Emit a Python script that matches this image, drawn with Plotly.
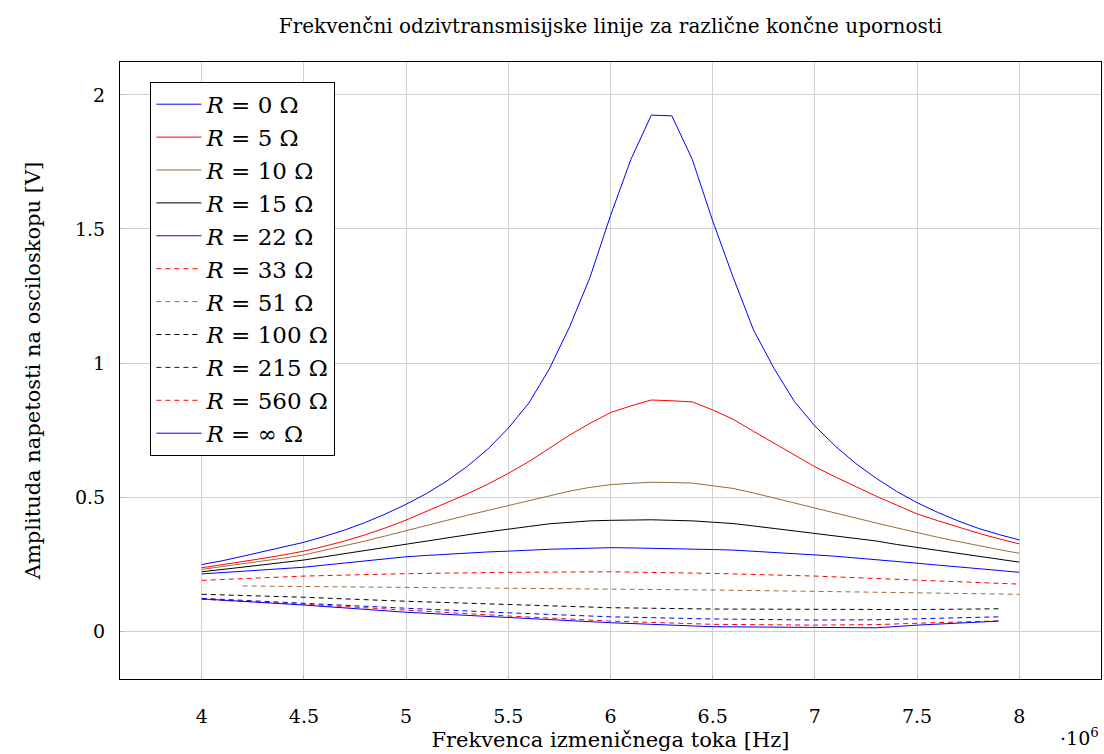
import plotly.graph_objects as go

# Frequencies in units of 10^6 Hz
freq = [4.0, 4.1, 4.2, 4.3, 4.4, 4.5, 4.6, 4.7, 4.8, 4.9, 5.0, 5.1, 5.2, 5.3, 5.4,
        5.5, 5.6, 5.7, 5.8, 5.9, 6.0, 6.1, 6.2, 6.3, 6.4, 6.5, 6.6, 6.7, 6.8, 6.9,
        7.0, 7.1, 7.2, 7.3, 7.4, 7.5, 7.6, 7.7, 7.8, 7.9, 8.0]

r0 = [0.248, 0.262, 0.279, 0.296, 0.313, 0.331, 0.353, 0.377, 0.405, 0.437, 0.473,
      0.513, 0.560, 0.615, 0.679, 0.757, 0.850, 0.977, 1.135, 1.320, 1.550, 1.760,
      1.925, 1.922, 1.760, 1.530, 1.320, 1.123, 0.980, 0.856, 0.765, 0.690, 0.625,
      0.570, 0.521, 0.479, 0.443, 0.411, 0.383, 0.360, 0.340]

r5 = [0.236, 0.247, 0.259, 0.271, 0.284, 0.298, 0.316, 0.336, 0.359, 0.385, 0.414,
      0.446, 0.478, 0.512, 0.548, 0.588, 0.632, 0.681, 0.731, 0.775, 0.815, 0.840,
      0.862, 0.859, 0.855, 0.825, 0.790, 0.745, 0.700, 0.655, 0.613, 0.575, 0.538,
      0.503, 0.470, 0.437, 0.412, 0.388, 0.365, 0.344, 0.325]

r10 = [0.230, 0.240, 0.250, 0.261, 0.272, 0.284, 0.301, 0.318, 0.336, 0.355, 0.375,
       0.394, 0.413, 0.432, 0.450, 0.467, 0.485, 0.505, 0.522, 0.536, 0.546, 0.551,
       0.555, 0.554, 0.552, 0.542, 0.532, 0.515, 0.496, 0.477, 0.458, 0.440, 0.422,
       0.403, 0.385, 0.367, 0.350, 0.334, 0.318, 0.304, 0.290]

r15 = [0.221, 0.229, 0.238, 0.247, 0.256, 0.265, 0.277, 0.289, 0.301, 0.313, 0.325,
       0.336, 0.347, 0.359, 0.370, 0.379, 0.390, 0.400, 0.406, 0.411, 0.413, 0.414,
       0.415, 0.413, 0.411, 0.406, 0.401, 0.392, 0.383, 0.374, 0.365, 0.355, 0.346,
       0.336, 0.323, 0.311, 0.301, 0.290, 0.279, 0.268, 0.257]

r22 = [0.213, 0.218, 0.223, 0.228, 0.233, 0.238, 0.246, 0.254, 0.262, 0.270, 0.277,
       0.282, 0.287, 0.292, 0.295, 0.298, 0.302, 0.305, 0.307, 0.309, 0.311, 0.310,
       0.309, 0.308, 0.306, 0.304, 0.302, 0.298, 0.293, 0.289, 0.284, 0.279, 0.273,
       0.267, 0.260, 0.253, 0.246, 0.240, 0.233, 0.226, 0.219]

freq_33 = [4.0, 4.5, 5.0, 5.5, 6.0, 6.5, 7.0, 7.5, 8.0]
r33 = [0.189, 0.205, 0.214, 0.219, 0.221, 0.215, 0.205, 0.190, 0.175]

freq_51 = [4.2, 4.5, 5.0, 5.5, 6.0, 6.5, 7.0, 7.5, 8.0]
r51 = [0.168, 0.166, 0.164, 0.160, 0.158, 0.153, 0.148, 0.142, 0.137]

freq_hi = [4.0, 4.5, 5.0, 5.5, 6.0, 6.5, 7.0, 7.3, 7.5, 7.9]
r100 = [0.137, 0.126, 0.111, 0.098, 0.087, 0.082, 0.080, 0.080, 0.080, 0.083]
r215 = [0.122, 0.103, 0.085, 0.068, 0.053, 0.045, 0.041, 0.042, 0.045, 0.053]
r560 = [0.118, 0.100, 0.078, 0.056, 0.037, 0.025, 0.022, 0.024, 0.029, 0.038]
rinf = [0.120, 0.097, 0.070, 0.051, 0.031, 0.016, 0.012, 0.012, 0.022, 0.037]

labels = ["0", "5", "10", "15", "22", "33", "51", "100", "215", "560", "∞"]

BLUE = "#0000ff"
RED = "#ff0000"
BROWN = "#9c6b3c"
BLACK = "#000000"

series = [
    (freq, r0, BLUE, "solid"),
    (freq, r5, RED, "solid"),
    (freq, r10, BROWN, "solid"),
    (freq, r15, BLACK, "solid"),
    (freq, r22, BLUE, "solid"),
    (freq_33, r33, RED, "5px,4px"),
    (freq_51, r51, BROWN, "5px,4px"),
    (freq_hi, r100, BLACK, "5px,4px"),
    (freq_hi, r215, BLUE, "5px,4px"),
    (freq_hi, r560, RED, "5px,4px"),
    (freq_hi, rinf, BLUE, "solid"),
]

FONT = "DejaVu Serif"

fig = go.Figure()
for (xs, ys, col, dash), lab in zip(series, labels):
    fig.add_trace(go.Scatter(
        x=xs, y=ys, mode="lines",
        line=dict(color=col, width=1, dash=dash),
        name=f"<i>R</i> = {lab} Ω",
    ))

fig.update_layout(
    width=1104, height=754,
    margin=dict(l=120, r=3, t=62, b=75),
    paper_bgcolor="white", plot_bgcolor="white",
    font=dict(family=FONT, size=18, color="black"),
    title=dict(text="Frekvenčni odzivtransmisijske linije za različne končne upornosti",
               x=(120 + 1101) / 2 / 1104, xanchor="center",
               y=1 - 26 / 754, yanchor="middle", yref="container",
               font=dict(family=FONT, size=20)),
    showlegend=True,
    legend=dict(x=0.031, y=0.968, xanchor="left", yanchor="top",
                bordercolor="black", borderwidth=1, bgcolor="white",
                font=dict(family=FONT, size=23), tracegroupgap=0,
                itemwidth=45),
    xaxis=dict(range=[3.6, 8.4], tickmode="array",
               tickvals=[4, 4.5, 5, 5.5, 6, 6.5, 7, 7.5, 8],
               ticktext=["4", "4.5", "5", "5.5", "6", "6.5", "7", "7.5", "8"],
               showgrid=True, gridcolor="#d0d0d0", gridwidth=1,
               showline=True, linecolor="black", linewidth=1, mirror=True,
               ticks="inside", ticklen=4, tickcolor="#bbbbbb",
               zeroline=False, tickfont=dict(size=19), ticklabelstandoff=20,
               title=dict(text="Frekvenca izmeničnega toka [Hz]", standoff=6,
                          font=dict(size=21))),
    yaxis=dict(range=[-0.179, 2.123], tickmode="array",
               tickvals=[0, 0.5, 1, 1.5, 2],
               ticktext=["0", "0.5", "1", "1.5", "2"],
               showgrid=True, gridcolor="#d0d0d0", gridwidth=1,
               showline=True, linecolor="black", linewidth=1, mirror=True,
               ticks="inside", ticklen=4, tickcolor="#bbbbbb",
               zeroline=False, tickfont=dict(size=19), ticklabelstandoff=10,
               title=dict(text="Amplituda napetosti na osciloskopu [V]", standoff=28,
                          font=dict(size=21))),
)

fig.add_annotation(text="·10<sup>6</sup>", xref="paper", yref="paper",
                   x=1.0, y=-0.094, xanchor="right", yanchor="middle",
                   showarrow=False, font=dict(family=FONT, size=19))

fig.write_html("out.html", config={"displayModeBar": False},
               post_script="document.body.style.margin='0';document.body.style.padding='0';document.documentElement.style.overflow='hidden';")
